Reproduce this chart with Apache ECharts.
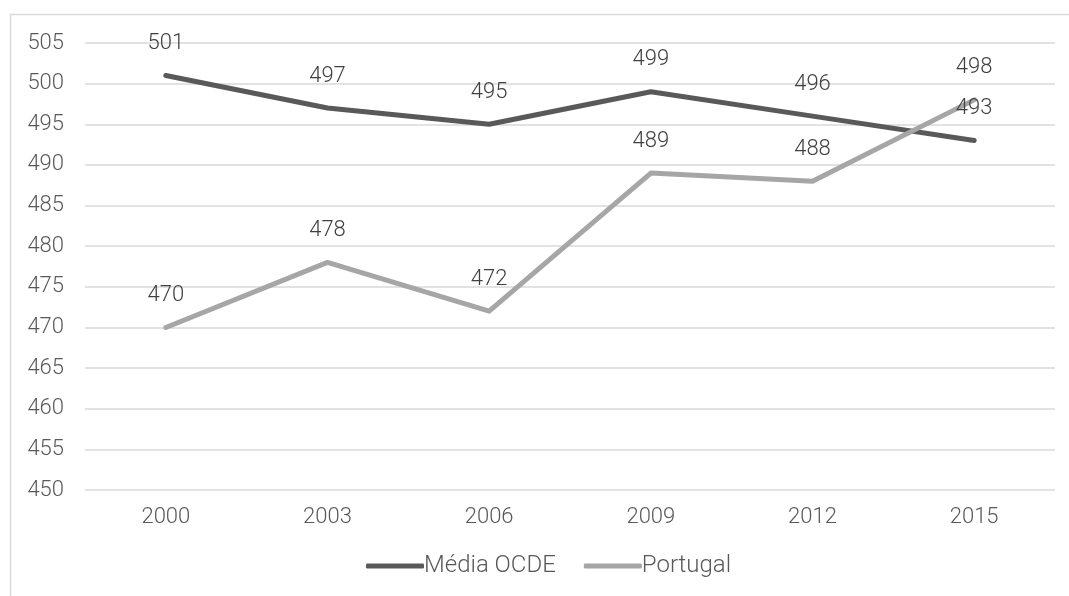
<!DOCTYPE html>
<html>
<head>
<meta charset="utf-8">
<script src="https://cdn.jsdelivr.net/npm/echarts@6/dist/echarts.min.js"></script>
<style>
  html, body { margin: 0; padding: 0; background: #fff; }
  #chart { width: 1069px; height: 596px; }
</style>
</head>
<body>
<div id="chart"></div>
<script>
// PISA mean scores by assessment year
const years = ['2000', '2003', '2006', '2009', '2012', '2015'];
const mediaOCDE = [501, 497, 495, 499, 496, 493];
const portugal = [470, 478, 472, 489, 488, 498];
const seriesNames = ['Média OCDE', 'Portugal'];

const FONT = 'Roboto, "Noto Sans", sans-serif';
const FW = 300;

const chart = echarts.init(document.getElementById('chart'), null, { renderer: 'canvas' });

function lineSeries(name, data, color) {
  return {
    name: name,
    type: 'line',
    data: data,
    showSymbol: true,
    symbol: 'circle',
    symbolSize: 2,
    lineStyle: { color: color, width: 5, cap: 'round', join: 'round' },
    itemStyle: { color: color, borderWidth: 0 },
    label: {
      show: true,
      position: 'top',
      distance: 20,
      fontFamily: FONT,
      fontWeight: FW,
      fontSize: 22,
      color: '#404040'
    },
    labelLayout: { hideOverlap: false },
    emphasis: { disabled: true },
    animation: false
  };
}

chart.setOption({
  backgroundColor: '#ffffff',
  textStyle: { fontFamily: FONT },
  graphic: [{
    type: 'rect',
    silent: true,
    shape: { x: 10.5, y: 14.5, width: 1200, height: 800 },
    style: { fill: 'none', stroke: '#d9d9d9', lineWidth: 1.5 }
  }],
  grid: { left: 85, right: 14, top: 43, bottom: 106 },
  legend: {
    bottom: 13,
    left: 361,
    itemWidth: 58,
    itemHeight: 5,
    itemGap: 28,
    icon: 'roundRect',
    textStyle: { fontFamily: FONT, fontWeight: FW, fontSize: 24, color: '#595959', padding: [0, 0, 0, -5] },
    data: seriesNames
  },
  xAxis: {
    type: 'category',
    data: years,
    boundaryGap: true,
    axisLine: { show: false },
    axisTick: { show: false },
    axisLabel: { fontFamily: FONT, fontWeight: FW, fontSize: 22, color: '#595959', margin: 16 }
  },
  yAxis: {
    type: 'value',
    min: 450,
    max: 505,
    interval: 5,
    axisLine: { show: false },
    axisTick: { show: false },
    axisLabel: { fontFamily: FONT, fontWeight: FW, fontSize: 22, color: '#595959', margin: 21 },
    splitLine: { lineStyle: { color: '#d9d9d9', width: 1.5 } }
  },
  series: [
    lineSeries(seriesNames[0], mediaOCDE, '#595959'),
    lineSeries(seriesNames[1], portugal, '#a6a6a6')
  ]
});
</script>
</body>
</html>
